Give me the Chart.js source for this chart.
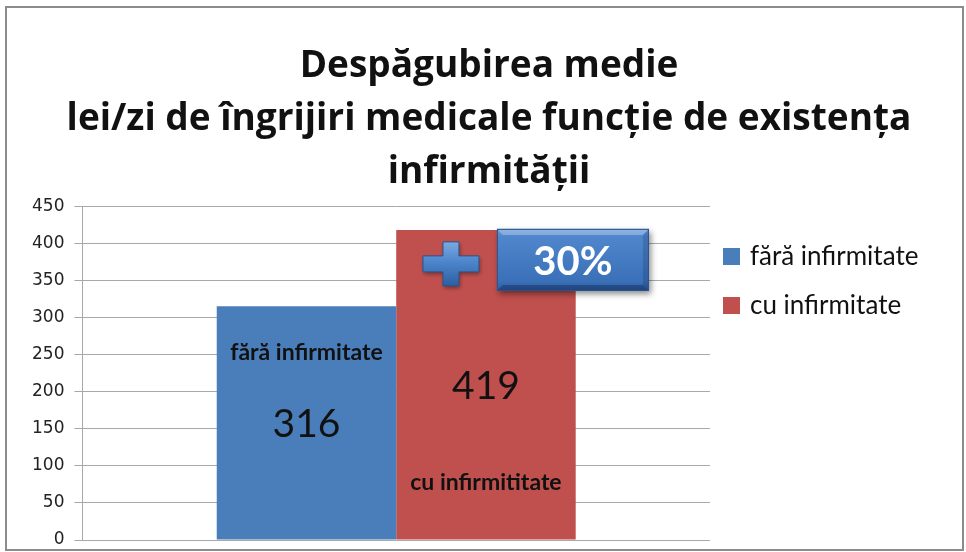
<!DOCTYPE html>
<html><head><meta charset="utf-8">
<script src="https://cdn.jsdelivr.net/npm/chart.js@4"></script>
<style>html,body{margin:0;padding:0;background:#fff}#wrap{width:966px;height:552px;position:relative}</style>
</head><body><div id="wrap"><canvas id="c" width="966" height="552"></canvas></div>
<script>
const titleLines = ['Despăgubirea medie', 'lei/zi de îngrijiri medicale funcție de existența', 'infirmității'];
const categories = [''];
const seriesNames = ['fără infirmitate', 'cu infirmitate'];
const barNameLabels = ['fără infirmitate', 'cu infirmititate'];
const faraInfirmitate = [316];
const cuInfirmitate = [419];
const yTickValues = [0, 50, 100, 150, 200, 250, 300, 350, 400, 450];
const increaseLabel = '30%';

const BLUE = '#4A7EBB';
const RED = '#C0504D';

const framePlugin = {
  id: 'frame',
  beforeDraw(chart) {
    const ctx = chart.ctx;
    ctx.save();
    ctx.fillStyle = '#fff';
    ctx.fillRect(0, 0, chart.width, chart.height);
    ctx.strokeStyle = '#8c8c8c';
    ctx.lineWidth = 2;
    ctx.strokeRect(6, 7, 957, 543);
    ctx.restore();
  }
};

const labelPlugin = {
  id: 'barLabels',
  afterDatasetsDraw(chart) {
    const ctx = chart.ctx;
    ctx.save();
    ctx.textAlign = 'center';
    ctx.textBaseline = 'middle';
    ctx.fillStyle = '#111';
    chart.data.datasets.forEach((ds, i) => {
      const el = chart.getDatasetMeta(i).data[0];
      const x = el.x, top = el.y, bottom = el.base;
      const mid = (top + bottom) / 2;
      ctx.font = '39px Lato';
      ctx.fillText(String(ds.data[0]), x, mid + 2);
      ctx.font = 'bold 23px Lato';
      const ny = i === 0 ? top + 46 : bottom - 57;
      ctx.fillText(barNameLabels[i], x, ny);
    });

    // increase badge anchored to the second bar
    const el = chart.getDatasetMeta(1).data[0];
    const bx = el.x + 11, by = el.y - 1, bw = 152, bh = 62;
    ctx.save();
    ctx.shadowColor = 'rgba(0,0,0,0.45)';
    ctx.shadowBlur = 6;
    ctx.shadowOffsetX = 2;
    ctx.shadowOffsetY = 3;
    ctx.fillStyle = '#2f64a6';
    ctx.fillRect(bx, by, bw, bh);
    ctx.restore();
    let g = ctx.createLinearGradient(0, by, 0, by + bh);
    g.addColorStop(0, '#6f9fd8');
    g.addColorStop(0.12, '#4f86cc');
    g.addColorStop(0.85, '#3a70b8');
    g.addColorStop(1, '#2a5a98');
    ctx.fillStyle = g;
    ctx.fillRect(bx, by, bw, bh);
    ctx.fillStyle = 'rgba(255,255,255,0.25)';
    ctx.beginPath();
    ctx.moveTo(bx, by); ctx.lineTo(bx + bw, by); ctx.lineTo(bx + bw - 6, by + 6); ctx.lineTo(bx + 6, by + 6); ctx.closePath(); ctx.fill();
    ctx.fillStyle = 'rgba(0,0,40,0.25)';
    ctx.beginPath();
    ctx.moveTo(bx, by + bh); ctx.lineTo(bx + bw, by + bh); ctx.lineTo(bx + bw - 6, by + bh - 6); ctx.lineTo(bx + 6, by + bh - 6); ctx.closePath(); ctx.fill();
    ctx.fillStyle = 'rgba(0,0,40,0.15)';
    ctx.beginPath();
    ctx.moveTo(bx + bw, by); ctx.lineTo(bx + bw, by + bh); ctx.lineTo(bx + bw - 6, by + bh - 6); ctx.lineTo(bx + bw - 6, by + 6); ctx.closePath(); ctx.fill();
    ctx.strokeStyle = '#2a5590';
    ctx.lineWidth = 1;
    ctx.strokeRect(bx + 0.5, by + 0.5, bw - 1, bh - 1);
    ctx.fillStyle = '#fff';
    ctx.font = 'bold 40px Lato';
    ctx.fillText(increaseLabel, bx + bw / 2, by + bh / 2 + 2);

    // plus sign
    const px = el.x - 35, py = el.y + 34;
    const arm = 28, half = 8, vArm = 22;
    ctx.save();
    ctx.shadowColor = 'rgba(0,0,0,0.4)';
    ctx.shadowBlur = 4;
    ctx.shadowOffsetX = 1;
    ctx.shadowOffsetY = 2;
    g = ctx.createLinearGradient(0, py - vArm, 0, py + vArm);
    g.addColorStop(0, '#7aa9e0');
    g.addColorStop(0.5, '#4a82c8');
    g.addColorStop(1, '#2d5fa0');
    ctx.fillStyle = g;
    ctx.beginPath();
    ctx.moveTo(px - half, py - vArm);
    ctx.lineTo(px + half, py - vArm);
    ctx.lineTo(px + half, py - half);
    ctx.lineTo(px + arm, py - half);
    ctx.lineTo(px + arm, py + half);
    ctx.lineTo(px + half, py + half);
    ctx.lineTo(px + half, py + vArm);
    ctx.lineTo(px - half, py + vArm);
    ctx.lineTo(px - half, py + half);
    ctx.lineTo(px - arm, py + half);
    ctx.lineTo(px - arm, py - half);
    ctx.lineTo(px - half, py - half);
    ctx.closePath();
    ctx.fill();
    ctx.restore();
    ctx.strokeStyle = '#2a5590';
    ctx.lineWidth = 1;
    ctx.stroke();

    // legend (drawn in the space reserved on the right)
    const ca = chart.chartArea;
    const lx = ca.right + 13;
    const ys = [256, 305];
    chart.data.datasets.forEach((ds, i) => {
      ctx.fillStyle = ds.backgroundColor;
      ctx.fillRect(lx, ys[i] - 8, 17, 17);
      ctx.fillStyle = '#111';
      ctx.textAlign = 'left';
      ctx.font = '26px Lato';
      ctx.fillText(ds.label, lx + 27, ys[i] + 1);
    });
    ctx.restore();
  }
};

new Chart(document.getElementById('c'), {
  type: 'bar',
  data: {
    labels: categories,
    datasets: [
      { label: seriesNames[0], data: faraInfirmitate, backgroundColor: BLUE, borderWidth: 0, categoryPercentage: 0.572, barPercentage: 1 },
      { label: seriesNames[1], data: cuInfirmitate, backgroundColor: RED, borderWidth: 0, categoryPercentage: 0.572, barPercentage: 1 }
    ]
  },
  options: {
    responsive: false,
    animation: false,
    devicePixelRatio: 1,
    layout: { padding: { left: 22, right: 10, top: 0, bottom: 12 } },
    plugins: {
      legend: { display: false },
      tooltip: { enabled: false },
      title: {
        display: true,
        text: titleLines,
        color: '#111',
        font: { family: 'Open Sans', size: 37, weight: 'bold', lineHeight: 1.432 },
        padding: { top: 40, bottom: 8 }
      }
    },
    scales: {
      x: {
        display: false
      },
      y: {
        min: 0, max: 450,
        afterBuildTicks(scale) { scale.ticks = yTickValues.map(v => ({ value: v })); },
        afterFit(scale) { scale.paddingTop = 0; scale.paddingBottom = 0; },
        ticks: { color: '#222', font: { family: 'DejaVu Sans', size: 17 }, padding: 10 },
        grid: { color: '#a8a8a8', lineWidth: 1, tickLength: 8 },
        border: { color: '#a8a8a8', width: 1 }
      },
      legendSpace: {
        type: 'linear',
        position: 'right',
        display: true,
        ticks: { display: false },
        grid: { display: false },
        border: { display: false },
        afterFit(scale) { scale.width = 246; scale.paddingTop = 0; scale.paddingBottom = 0; }
      }
    }
  },
  plugins: [framePlugin, labelPlugin]
});
</script>
</body></html>
